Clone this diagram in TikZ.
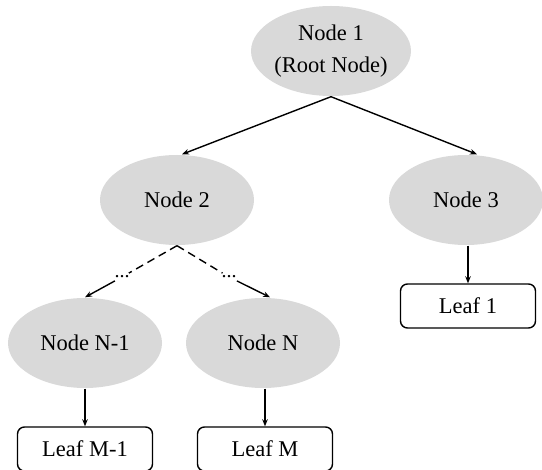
\documentclass[tikz,border=0pt]{standalone}
\usepackage{fontspec}
\setmainfont{Liberation Serif}
\usetikzlibrary{shapes.geometric, arrows.meta}

\begin{document}
\begin{tikzpicture}[x=1pt, y=-1pt, line width=1.4pt, font=\fontsize{22.5}{32}\selectfont,
TreeNode/.style={ellipse, fill=gray!30, minimum width=154pt, minimum height=90pt, inner sep=0pt, align=center},
LeafBox/.style={draw, rounded corners=7pt, minimum width=135pt, minimum height=44pt, inner sep=0pt},
TreeArrow/.style={-{Stealth[length=7pt, width=5.5pt]}},
Gap/.style={inner sep=2pt, font=\fontsize{20}{20}\selectfont}]
\useasboundingbox (0,0) rectangle (542,470);
% tree nodes
\node [TreeNode] (root) at (331,51) {Node 1\\(Root Node)};
\node [TreeNode] (n2) at (177,200) {Node 2};
\node [TreeNode] (n3) at (466,200) {Node 3};
\node [TreeNode] (nN1) at (85,343) {Node N-1};
\node [TreeNode] (nN) at (263,343) {Node N};
% leaves
\node [LeafBox] (leaf1) at (468,306) {Leaf 1};
\node [LeafBox] (leafM1) at (85,449) {Leaf M-1};
\node [LeafBox] (leafM) at (265,449) {Leaf M};
% skipped levels
\node [Gap] (gapL) at (122,277) {...};
\node [Gap] (gapR) at (229,277) {...};
\draw [TreeArrow] (root.south) -- ([xshift=5pt]n2.north);
\draw [TreeArrow] (root.south) -- ([xshift=11pt]n3.north);
\draw [dash pattern=on 8pt off 5pt] (n2.south) -- (gapL);
\draw [dash pattern=on 8pt off 5pt] (n2.south) -- (gapR);
\draw [TreeArrow] (gapL) -- (nN1.north);
\draw [TreeArrow] (gapR) -- ([xshift=7pt]nN.north);
\foreach \from/\to in {n3/leaf1, nN1/leafM1, nN/leafM} {
  \draw [TreeArrow] (\from.south -| \to.north) -- (\to.north);
}
\end{tikzpicture}
\end{document}
